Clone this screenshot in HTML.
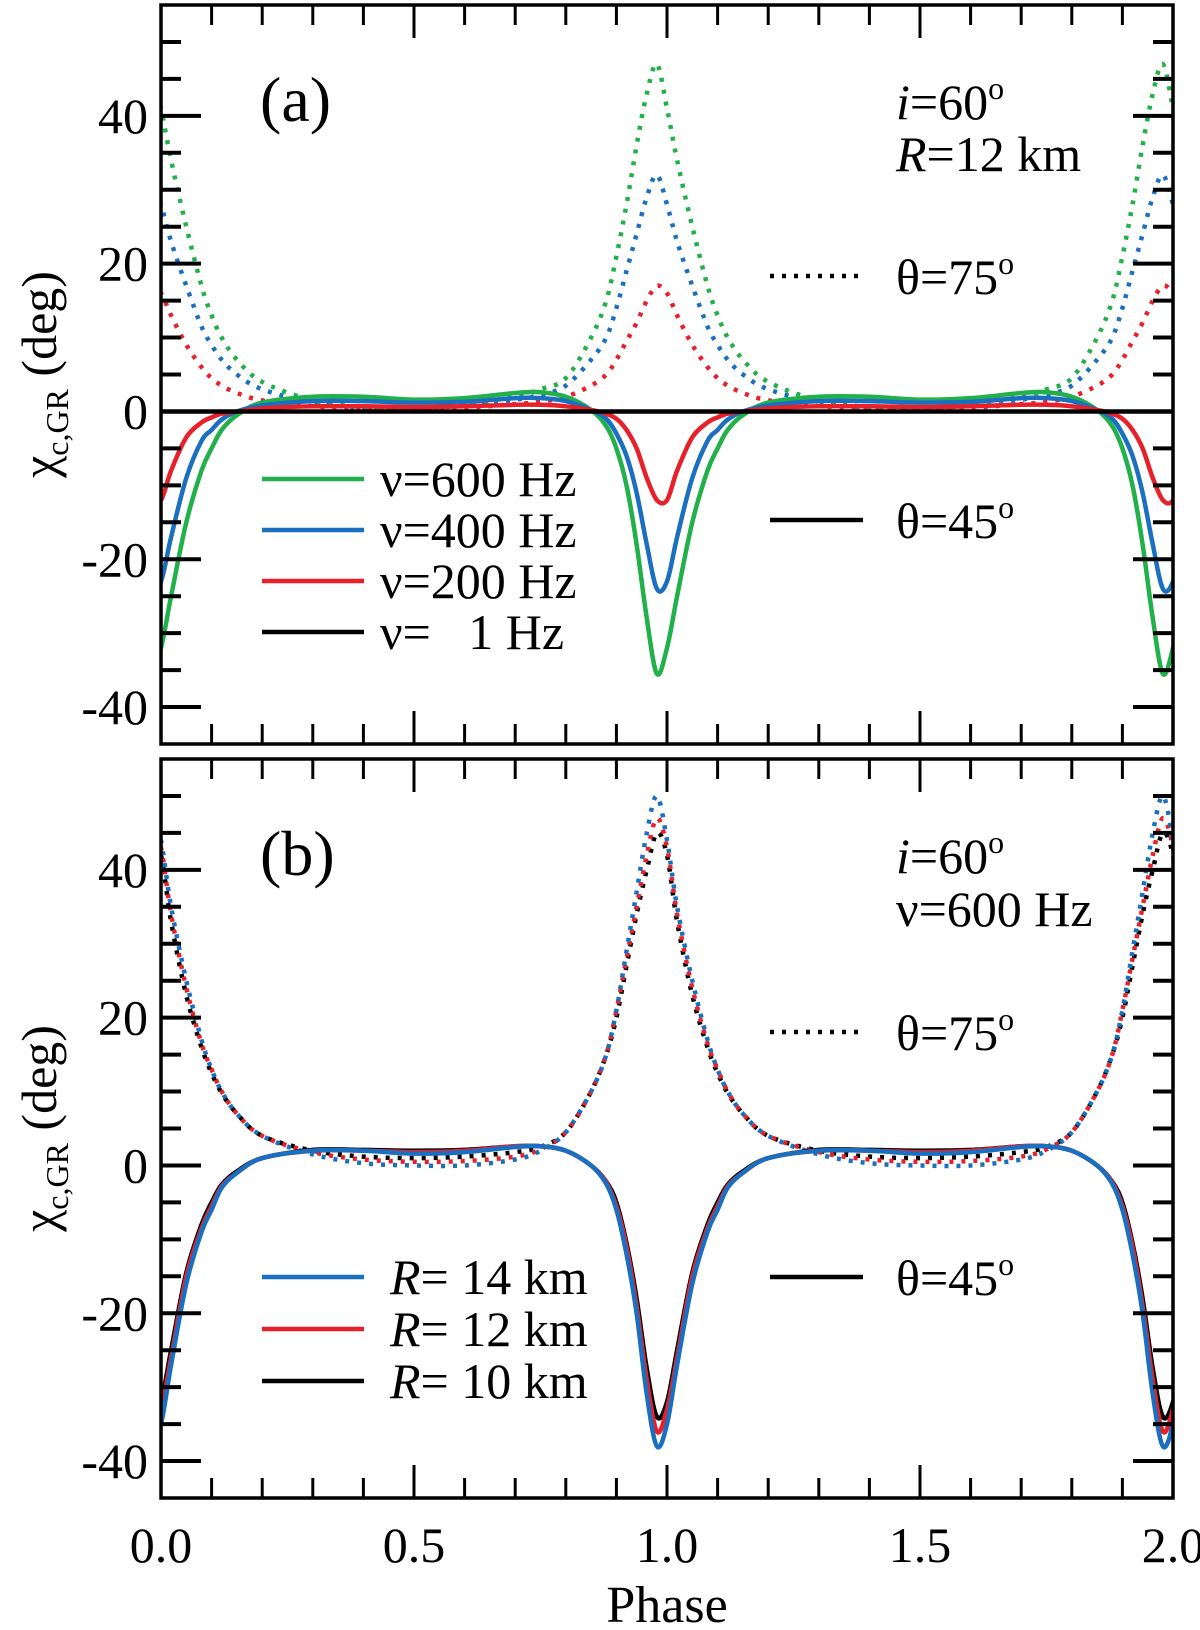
<!DOCTYPE html>
<html><head><meta charset="utf-8"><style>
html,body{margin:0;padding:0;background:#fff}
svg{display:block;font-family:"Liberation Serif",serif}
</style></head><body>
<svg id="chart" width="1200" height="1630" viewBox="0 0 1200 1630"></svg>
<script>
// one period of phase samples (value at phase 1 equals value at phase 0)
const phases = [0,0.02,0.05,0.08,0.1,0.12,0.15,0.2,0.3,0.4,0.5,0.6,0.7,0.75,0.8,0.85,0.88,0.9,0.92,0.94,0.96,0.98];
// panel (a): theta=45 solid
const a45_600 = [-32,-25,-15,-8,-5,-2.5,-0.5,1.2,2,2,1.6,1.8,2.5,2.6,2,0.2,-2,-5,-10,-18,-28,-35.5];
const a45_400 = [-23,-17,-9,-4,-2.5,-1.1,0,0.8,1.4,1.4,1.2,1.3,1.8,1.8,1.4,0.2,-1,-3,-6,-11,-18,-24];
const a45_200 = [-12,-8,-3.5,-1.5,-0.8,-0.3,0,0.4,0.7,0.7,0.6,0.7,0.9,0.9,0.7,0.2,-0.3,-1,-2.5,-5,-9,-12];
const a45_1 = [0,0,0,0,0,0,0,0,0,0,0,0,0,0,0,0,0,0,0,0,0,0];
// panel (a): theta=75 dotted
const a75_600 = [41,34,25,17,13,10,7,4,1.5,0.6,0.5,1,2,3,4.5,10,15,21,28,36,43,47];
const a75_400 = [28,23,17,11.5,9,7,5,3,1.2,0.5,0.4,0.8,1.6,2.2,3.5,7,10,14,19,24,29,32];
const a75_200 = [16,13,9,6,4.5,3.5,2.5,1.5,0.7,0.4,0.3,0.5,1,1.3,2,3.5,5,7,9.5,12,15,17];
// panel (b): theta=45 solid
const b45_14 = [-35,-27,-16,-9,-6,-3,-1,1,2,2,1.6,1.8,2.5,2.6,2,0,-2.5,-6,-12,-20,-31,-38];
const b45_12 = [-33,-26,-15,-8.5,-5.5,-2.8,-1,1,2,2,1.8,2,2.6,2.6,2,0,-2.3,-5.5,-11,-19,-29,-36];
const b45_10 = [-32,-25,-14.5,-8,-5,-2.6,-0.8,1,2.1,2.1,2,2.1,2.6,2.6,2,0,-2.2,-5,-10.5,-18,-27.5,-34];
// panel (b): theta=75 dotted
const b75_14 = [44,35,25,17,13,10,7,4,1.5,0.3,0,0,0.8,2,4.5,10,15,21,29,37,45,50];
const b75_12 = [43,34,24,16.5,13,10,7,4,1.8,0.8,0.5,0.6,1.2,2.2,4.5,10,15,21,28,35,42,47];
const b75_10 = [42,33,23,16,12.5,9.8,7,4,2,1.2,1,1.2,1.8,2.5,4.5,10,15,20,27,34,40,45];
const yTicks = [-40,-20,0,20,40];
const xTicks = [0,0.5,1,1.5,2];
const xTickLabels = ["0.0","0.5","1.0","1.5","2.0"];

const NS="http://www.w3.org/2000/svg";
const svg=document.getElementById('chart');
const L=161,R=1173,YMIN=-45,YMAX=55;
const xs=p=>L+(p/2)*(R-L);
function mk(tag,attrs,parent){const e=document.createElementNS(NS,tag);for(const k in attrs)e.setAttribute(k,attrs[k]);(parent||svg).appendChild(e);return e;}
const G='#22b04a',B='#1a6fc0',Rd='#e8202a',K='#000';

function smoothPath(pts){
  let d='M'+pts[0][0].toFixed(1)+','+pts[0][1].toFixed(1);
  for(let i=0;i<pts.length-1;i++){
    const p0=pts[Math.max(0,i-1)],p1=pts[i],p2=pts[i+1],p3=pts[Math.min(pts.length-1,i+2)];
    const c1=[p1[0]+(p2[0]-p0[0])/6,p1[1]+(p2[1]-p0[1])/6];
    const c2=[p2[0]-(p3[0]-p1[0])/6,p2[1]-(p3[1]-p1[1])/6];
    d+='C'+c1[0].toFixed(1)+','+c1[1].toFixed(1)+' '+c2[0].toFixed(1)+','+c2[1].toFixed(1)+' '+p2[0].toFixed(1)+','+p2[1].toFixed(1);
  }
  return d;
}

function panel(top,bottom,id,series,texts){
  const ys=v=>top+(YMAX-v)/(YMAX-YMIN)*(bottom-top);
  const g=mk('g',{});
  
  
  const cp=mk('clipPath',{id:'clip'+id},g);
  mk('rect',{x:L,y:top,width:R-L,height:bottom-top},cp);
  const cg=mk('g',{'clip-path':'url(#clip'+id+')'},g);
  series.forEach(s=>{
    const pts=[];
    for(let per=-1;per<=2;per++){
      for(let i=0;i<phases.length;i++){
        const p=phases[i]+per;
        if(p<-0.1||p>2.1)continue;
        pts.push([xs(p),ys(s.vals[i])]);
      }
    }
    const path=mk('path',{d:smoothPath(pts),fill:'none',stroke:s.color,'stroke-width':4.5,'stroke-dasharray':s.dot?'4 8':'none','stroke-linejoin':'round'},cg);
    
    
  });
  const fr=mk('rect',{x:L,y:top,width:R-L,height:bottom-top,fill:'none',stroke:'#000','stroke-width':3.5},g);
  
  
  for(let v=-45;v<=55;v+=5){
    const y=ys(v);if(y<=top+1||y>=bottom-1)continue;
    const len=(v%20===0)?40:20;
    mk('line',{x1:L,x2:L+len,y1:y,y2:y,stroke:'#000','stroke-width':4},g);
    mk('line',{x1:R,x2:R-len,y1:y,y2:y,stroke:'#000','stroke-width':4},g);
  }
  yTicks.forEach(v=>{
    const t=mk('text',{x:148,y:ys(v)+17,'text-anchor':'end','font-size':50},g);
    t.textContent=String(v);
    
    
  });
  for(let k=1;k<20;k++){
    const x=xs(k/10);const len=(k%5===0)?33:20;
    mk('line',{x1:x,x2:x,y1:top,y2:top+len,stroke:'#000','stroke-width':3},g);
    mk('line',{x1:x,x2:x,y1:bottom,y2:bottom-len,stroke:'#000','stroke-width':3},g);
  }
  const yt=mk('text',{transform:'translate(56,'+ys(5)+') rotate(-90)','text-anchor':'middle','font-size':50},g);
  yt.innerHTML='χ<tspan font-size="32" dy="12">c,GR</tspan><tspan dy="-12">  (deg)</tspan>';
  
  
  texts(g,ys);
}
function txt(g,x,y,html,size,name){
  const t=mk('text',{x:x,y:y,'font-size':size},g);
  t.innerHTML=html;
  
  
  return t;
}
function legLine(g,x1,x2,y,color,dot,name){
  const l=mk('line',{x1:x1,x2:x2,y1:y,y2:y,stroke:color,'stroke-width':4.5,'stroke-dasharray':dot?'4 8':'none'},g);
  
  
}
const sup='<tspan font-size="32" dy="-20">o</tspan>';

panel(5,744,'a',[
  {vals:a75_200,color:Rd,dot:true,name:'dotted-200hz'},
  {vals:a75_400,color:B,dot:true,name:'dotted-400hz'},
  {vals:a75_600,color:G,dot:true,name:'dotted-600hz'},
  {vals:a45_600,color:G,dot:false,name:'solid-600hz'},
  {vals:a45_400,color:B,dot:false,name:'solid-400hz'},
  {vals:a45_200,color:Rd,dot:false,name:'solid-200hz'},
  {vals:a45_1,color:K,dot:false,name:'solid-1hz'}
],(g,ys)=>{
  txt(g,260,121,'(a)',64,'panel-label-a');
  txt(g,896,119,'<tspan font-style="italic">i</tspan>=60'+sup,50,'inclination-label');
  txt(g,896,171,'<tspan font-style="italic">R</tspan>=12 km',50,'radius-label');
  legLine(g,770,863,276,K,true,'legend-line-theta75');
  txt(g,896,294,'θ=75'+sup,50,'legend-theta75');
  legLine(g,770,863,520,K,false,'legend-line-theta45');
  txt(g,896,538,'θ=45'+sup,50,'legend-theta45');
  const rows=[[G,'ν=600 Hz'],[B,'ν=400 Hz'],[Rd,'ν=200 Hz'],[K,'ν=&#160;&#160;&#160;1 Hz']];
  rows.forEach((r,i)=>{const y=479+i*51;legLine(g,262,364,y,r[0],false,'legend-line');txt(g,380,y+17,r[1],50,'legend-entry');});
});
panel(759,1498,'b',[
  {vals:b75_10,color:K,dot:true,name:'dotted-10km'},
  {vals:b75_12,color:Rd,dot:true,name:'dotted-12km'},
  {vals:b75_14,color:B,dot:true,name:'dotted-14km'},
  {vals:b45_10,color:K,dot:false,name:'solid-10km'},
  {vals:b45_12,color:Rd,dot:false,name:'solid-12km'},
  {vals:b45_14,color:B,dot:false,name:'solid-14km'}
],(g,ys)=>{
  txt(g,260,875,'(b)',64,'panel-label-b');
  txt(g,896,873,'<tspan font-style="italic">i</tspan>=60'+sup,50,'inclination-label');
  txt(g,896,926,'ν=600 Hz',50,'frequency-label');
  legLine(g,770,863,1032,K,true,'legend-line-theta75');
  txt(g,896,1050,'θ=75'+sup,50,'legend-theta75');
  legLine(g,770,863,1277,K,false,'legend-line-theta45');
  txt(g,896,1295,'θ=45'+sup,50,'legend-theta45');
  const rows=[[B,'<tspan font-style="italic">R</tspan>= 14 km'],[Rd,'<tspan font-style="italic">R</tspan>= 12 km'],[K,'<tspan font-style="italic">R</tspan>= 10 km']];
  rows.forEach((r,i)=>{const y=1277+i*52;legLine(g,262,364,y,r[0],false,'legend-line');txt(g,390,y+17,r[1],50,'legend-entry');});
});
xTicks.forEach((p,i)=>{
  const t=mk('text',{x:xs(p),y:1562,'text-anchor':'middle','font-size':50});
  t.textContent=xTickLabels[i];
  
  
});
const xt=mk('text',{x:xs(1),y:1622,'text-anchor':'middle','font-size':52});
xt.textContent='Phase';


</script>
</body></html>
